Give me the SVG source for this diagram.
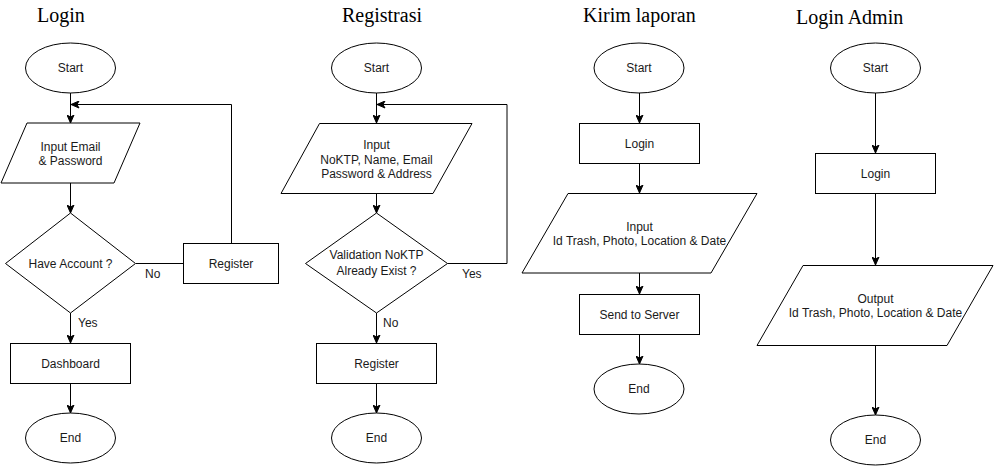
<svg xmlns="http://www.w3.org/2000/svg" width="994" height="468" viewBox="0 0 994 468">
<style>
.s{fill:#fff;stroke:#000;stroke-width:1}
.t{font-family:"Liberation Sans",Arial,sans-serif;font-size:12px;fill:#1a1a1a;text-anchor:middle}
.l{font-family:"Liberation Sans",Arial,sans-serif;font-size:12px;fill:#1a1a1a}
.h{font-family:"Liberation Serif","Times New Roman",serif;font-size:20px;fill:#000}
.c{fill:none;stroke:#000;stroke-width:1}
.a{marker-end:url(#arr)}
</style>
<defs>
<marker id="arr" markerUnits="userSpaceOnUse" markerWidth="9" markerHeight="8" viewBox="0 0 9 8" refX="8.5" refY="4" orient="auto">
<path d="M0.5,0.5 L8.5,4 L0.5,7.5 L2.5,4 Z" fill="#000" stroke="#000" stroke-width="1"/>
</marker>
</defs>
<g id="titles">
<text class="h" x="37" y="22">Login</text>
<text class="h" x="342" y="22">Registrasi</text>
<text class="h" x="583" y="22">Kirim laporan</text>
<text class="h" x="796" y="24">Login Admin</text>
</g>
<g id="connectors">
<path class="c a" d="M70.5,93 V123"/>
<path class="c a" d="M70.5,183 V213"/>
<path class="c" d="M136,263.5 H183"/>
<path class="c a" d="M231.5,243 V104.5 H71"/>
<path class="c a" d="M70.5,313 V343"/>
<path class="c a" d="M70.5,383 V413"/>
<text class="l" x="145" y="278">No</text>
<text class="l" x="78" y="327">Yes</text>
<path class="c a" d="M376.5,93 V123"/>
<path class="c a" d="M376.5,193 V213"/>
<path class="c a" d="M447.5,263.5 H507 V104.5 H377"/>
<path class="c a" d="M376.5,313 V343"/>
<path class="c a" d="M376.5,383 V413"/>
<text class="l" x="462" y="278">Yes</text>
<text class="l" x="383" y="327">No</text>
<path class="c a" d="M639.5,93 V123"/>
<path class="c a" d="M639.5,163 V193"/>
<path class="c a" d="M639.5,273 V294"/>
<path class="c a" d="M639.5,334 V364"/>
<path class="c a" d="M875.5,93 V153"/>
<path class="c a" d="M875.5,193 V265"/>
<path class="c a" d="M875.5,345 V415"/>
</g>
<g id="login-start"><ellipse class="s" cx="70.5" cy="68" rx="45" ry="25"/><text class="t" x="70.5" y="72">Start</text></g>
<g id="login-input"><path class="s" d="M27,123 H140 L114,183 H1 Z"/><text class="t" x="70.5" y="151">Input Email</text><text class="t" x="70.5" y="165">&amp; Password</text></g>
<g id="login-decision"><path class="s" d="M70.5,213 L135.5,263.5 L70.5,313 L5.5,263.5 Z"/><text class="t" x="70.5" y="268">Have Account ?</text></g>
<g id="login-register"><rect class="s" x="183.5" y="243.5" width="95" height="40"/><text class="t" x="231" y="268">Register</text></g>
<g id="login-dashboard"><rect class="s" x="10.5" y="343.5" width="120" height="40"/><text class="t" x="70.5" y="368">Dashboard</text></g>
<g id="login-end"><ellipse class="s" cx="70.5" cy="438" rx="45" ry="25"/><text class="t" x="70.5" y="442">End</text></g>
<g id="reg-start"><ellipse class="s" cx="376.5" cy="68" rx="45" ry="25"/><text class="t" x="376.5" y="72">Start</text></g>
<g id="reg-input"><path class="s" d="M319.5,123.5 H472 L433,193.5 H281 Z"/><text class="t" x="376.5" y="149">Input</text><text class="t" x="376.5" y="164">NoKTP, Name, Email</text><text class="t" x="376.5" y="178">Password &amp; Address</text></g>
<g id="reg-decision"><path class="s" d="M376.5,213 L447.5,263.5 L376.5,313 L305.5,263.5 Z"/><text class="t" x="376.5" y="259">Validation NoKTP</text><text class="t" x="376.5" y="275">Already Exist ?</text></g>
<g id="reg-register"><rect class="s" x="316.5" y="343.5" width="120" height="40"/><text class="t" x="376.5" y="368">Register</text></g>
<g id="reg-end"><ellipse class="s" cx="376.5" cy="438" rx="45" ry="25"/><text class="t" x="376.5" y="442">End</text></g>
<g id="kirim-start"><ellipse class="s" cx="639" cy="68" rx="45" ry="25"/><text class="t" x="639" y="72">Start</text></g>
<g id="kirim-login"><rect class="s" x="579.5" y="123.5" width="120" height="40"/><text class="t" x="639.5" y="148">Login</text></g>
<g id="kirim-input"><path class="s" d="M568,193.5 H757 L711,273 H522 Z"/><text class="t" x="639.5" y="231">Input</text><text class="t" x="639.5" y="245">Id Trash, Photo, Location &amp; Date</text></g>
<g id="kirim-send"><rect class="s" x="579.5" y="294.5" width="120" height="40"/><text class="t" x="639.5" y="319">Send to Server</text></g>
<g id="kirim-end"><ellipse class="s" cx="639" cy="389" rx="45" ry="25"/><text class="t" x="639" y="393">End</text></g>
<g id="admin-start"><ellipse class="s" cx="875.5" cy="68" rx="45" ry="25"/><text class="t" x="875.5" y="72">Start</text></g>
<g id="admin-login"><rect class="s" x="815.5" y="153.5" width="120" height="40"/><text class="t" x="875.5" y="178">Login</text></g>
<g id="admin-output"><path class="s" d="M803,265.5 H993 L947,345.5 H757 Z"/><text class="t" x="875.5" y="303">Output</text><text class="t" x="875.5" y="317">Id Trash, Photo, Location &amp; Date</text></g>
<g id="admin-end"><ellipse class="s" cx="875.5" cy="440" rx="45" ry="25"/><text class="t" x="875.5" y="444">End</text></g>
</svg>
